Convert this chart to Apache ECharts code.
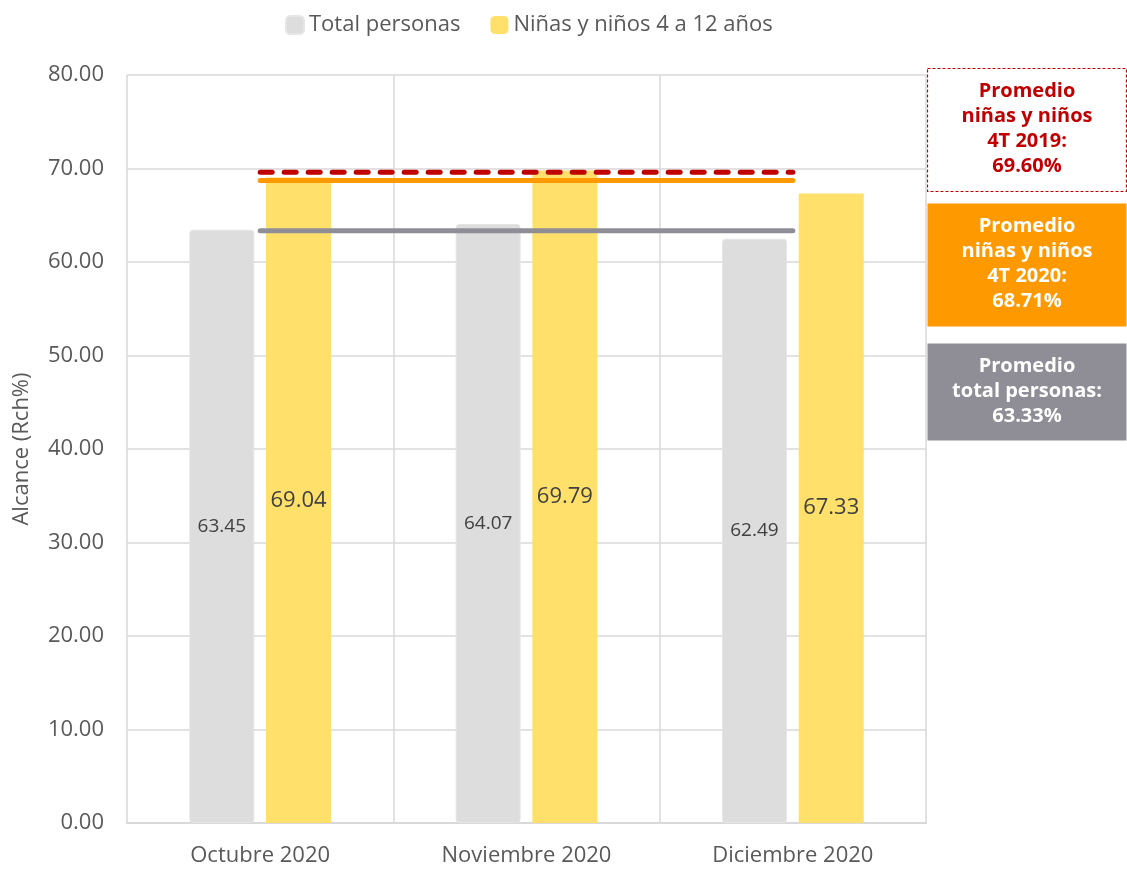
<!DOCTYPE html>
<html>
<head>
<meta charset="utf-8">
<script src="https://cdn.jsdelivr.net/npm/echarts@6/dist/echarts.min.js"></script>
<style>
  html, body { margin: 0; padding: 0; background: #fff; }
  #chart { width: 1127px; height: 869px; }
</style>
</head>
<body>
<div id="chart"></div>
<script>
// datos
const meses = ["Octubre 2020", "Noviembre 2020", "Diciembre 2020"];
const totalPersonas = [63.45, 64.07, 62.49];
const ninosNinas = [69.04, 69.79, 67.33];
const promedioTotal = [63.33, 63.33, 63.33];
const promedio2020 = [68.71, 68.71, 68.71];
const promedio2019 = [69.6, 69.6, 69.6];

const textColor = "#595959";
const fontFam = "'Open Sans', 'Noto Sans', sans-serif";

const chart = echarts.init(document.getElementById("chart"));

// cajas de promedio a la derecha
const cajas = [
  { top: 68, height: 123, fill: "#fff", color: "#C00000", dashed: true,
    lines: ["Promedio", "niñas y niños", "4T 2019:", "69.60%"] },
  { top: 203, height: 123, fill: "#FF9900", color: "#fff",
    lines: ["Promedio", "niñas y niños", "4T 2020:", "68.71%"] },
  { top: 343, height: 97, fill: "#8F8E96", color: "#fff",
    lines: ["Promedio", "total personas:", "63.33%"] }
];

const graphics = [];
cajas.forEach((c) => {
  graphics.push({
    type: "rect",
    shape: { x: 927.5, y: c.top + 0.5, width: 199, height: c.height },
    style: c.dashed
      ? { fill: c.fill, stroke: "#C00000", lineWidth: 1.2, lineDash: [3, 2] }
      : { fill: c.fill }
  });
  graphics.push({
    type: "text",
    x: 1027,
    y: c.top + 11,
    style: {
      text: c.lines.join("\n"),
      align: "center",
      verticalAlign: "top",
      fill: c.color,
      font: "bold 20px " + fontFam,
      lineHeight: 25
    }
  });
});

const option = {
  animation: false,
  textStyle: { fontFamily: fontFam },
  legend: {
    top: 9,
    left: 280,
    itemWidth: 18,
    itemHeight: 18,
    itemGap: 30,
    icon: "roundRect",
    data: ["Total personas", "Niñas y niños 4 a 12 años"],
    textStyle: { color: textColor, fontSize: 22, fontFamily: fontFam }
  },
  grid: { left: 127, right: 201, top: 75, bottom: 46 },
  xAxis: {
    type: "category",
    data: meses,
    axisLine: { lineStyle: { color: "#D9D9D9", width: 2 } },
    axisTick: { show: false },
    splitLine: { show: true, lineStyle: { color: "#D9D9D9", width: 1.5 } },
    axisLabel: { color: textColor, fontSize: 22, margin: 22, fontFamily: fontFam }
  },
  yAxis: {
    type: "value",
    min: 0,
    max: 80,
    interval: 10,
    name: "Alcance (Rch%)",
    nameLocation: "middle",
    nameGap: 94,
    nameTextStyle: { color: textColor, fontSize: 22, fontFamily: fontFam },
    axisLine: { show: false },
    axisTick: { show: false },
    splitLine: { lineStyle: { color: "#D9D9D9", width: 1.5 } },
    axisLabel: {
      color: textColor,
      fontSize: 22,
      margin: 23,
      fontFamily: fontFam,
      formatter: (v) => v.toFixed(2)
    }
  },
  series: [
    {
      name: "Total personas",
      type: "bar",
      data: totalPersonas,
      barWidth: 65,
      barGap: "18%",
      itemStyle: { color: "#DDDDDD", borderColor: "#E6E6E6", borderWidth: 1, borderRadius: 3 },
      label: {
        show: true,
        position: "inside",
        color: "#404040",
        fontSize: 19,
        fontFamily: fontFam,
        formatter: (p) => p.value.toFixed(2)
      },
      z: 2
    },
    {
      name: "Niñas y niños 4 a 12 años",
      type: "bar",
      data: ninosNinas,
      barWidth: 65,
      itemStyle: { color: "#FFE06B" },
      label: {
        show: true,
        position: "inside",
        color: "#404040",
        fontSize: 22,
        fontFamily: fontFam,
        formatter: (p) => p.value.toFixed(2)
      },
      z: 2
    },
    {
      name: "Promedio total",
      type: "line",
      data: promedioTotal,
      symbol: "none",
      lineStyle: { color: "#8F8E96", width: 5, cap: "round" },
      z: 5
    },
    {
      name: "Promedio 2020",
      type: "line",
      data: promedio2020,
      symbol: "none",
      lineStyle: { color: "#FF9900", width: 5, cap: "round" },
      z: 5
    },
    {
      name: "Promedio 2019",
      type: "line",
      data: promedio2019,
      symbol: "none",
      lineStyle: { color: "#C00000", width: 5, type: [12, 12], cap: "round" },
      z: 6
    }
  ],
  graphic: graphics
};

chart.setOption(option);
</script>
</body>
</html>
